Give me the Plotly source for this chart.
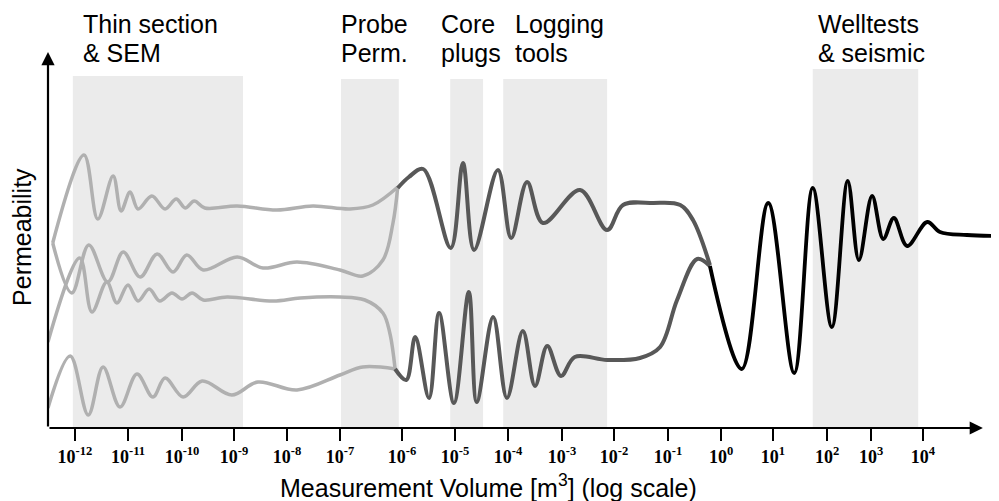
import plotly.graph_objects as go

# ---- axis ticks (log10 of measurement volume, positions as drawn) ----
tick_exp = [-12, -11, -10, -9, -8, -7, -6, -5, -4, -3, -2, -1, 0, 1, 2, 3, 4]
tick_pos = [-12.0, -11.0, -9.98, -9.0, -8.0, -7.0, -5.83, -4.83, -3.83, -2.81,
            -1.83, -0.81, 0.19, 1.17, 2.19, 3.02, 4.0]

# ---- measurement-scale bands ----
band_line1 = ["Thin section", "Probe", "Core", "Logging", "Welltests"]
band_line2 = ["& SEM", "Perm.", "plugs", "tools", "& seismic"]
band_lo = [-12.04, -6.98, -4.92, -3.92, 1.92]
band_hi = [-8.83, -5.89, -4.30, -1.96, 3.91]
band_top = [35.2, 34.9, 34.9, 34.9, 35.9]
label_x = [-11.89, -7.02, -5.13, -3.74, 1.98]

# ---- small-scale curves (light grey) ----
a_x = [-12.42, -11.83, -11.57, -11.28, -11.13, -10.96, -10.81, -10.55, -10.30, -10.09,
       -9.92, -9.75, -9.55, -8.94, -8.19, -7.51, -6.81, -6.38, -5.91]
a_y = [18.5, 27.3, 20.9, 25.2, 21.7, 23.6, 21.9, 23.2, 21.9, 22.9,
       22.0, 22.7, 22.0, 22.2, 21.8, 22.2, 21.9, 22.3, 24.1]

b_x = [-12.42, -12.06, -11.74, -11.38, -11.09, -10.77, -10.45, -10.15, -9.89, -9.58,
       -8.94, -8.45, -7.81, -7.00, -6.57, -6.19, -6.00, -5.91]
b_y = [18.5, 13.5, 18.3, 14.6, 17.6, 15.1, 17.4, 15.6, 17.3, 15.8,
       17.1, 16.0, 16.6, 15.8, 15.2, 16.8, 20.5, 24.1]

c_x = [-12.51, -11.91, -11.68, -11.40, -11.21, -11.00, -10.81, -10.60, -10.40, -10.17,
       -9.98, -9.79, -9.58, -9.13, -8.26, -7.75, -7.00, -6.53, -6.19, -6.06, -5.96]
c_y = [8.6, 17.0, 11.6, 14.6, 12.5, 14.3, 12.7, 13.9, 12.7, 13.5,
       12.9, 13.5, 12.8, 13.1, 12.7, 13.0, 13.1, 12.8, 11.5, 9.5, 5.9]

d_x = [-12.51, -12.09, -11.75, -11.47, -11.15, -10.83, -10.53, -10.30, -9.96, -9.60,
       -9.04, -8.55, -7.81, -7.00, -6.57, -5.96]
d_y = [2.0, 7.2, 1.3, 6.1, 2.1, 5.4, 3.1, 5.0, 3.1, 4.7,
       3.3, 4.6, 3.8, 5.3, 6.1, 5.9]

# ---- intermediate-scale curves (dark grey) ----
e_x = [-5.91, -5.70, -5.43, -4.91, -4.68, -4.47, -4.02, -3.77, -3.47, -3.17,
       -2.47, -1.96, -1.66, -1.09, -0.58, -0.34, -0.02]
e_y = [24.0, 25.1, 25.9, 18.0, 26.5, 17.8, 25.8, 19.0, 24.6, 20.5,
       23.8, 19.8, 22.3, 22.5, 22.3, 20.8, 16.3]

f_x = [-5.96, -5.75, -5.58, -5.32, -5.13, -4.85, -4.57, -4.42, -4.11, -3.85,
       -3.55, -3.32, -3.09, -2.83, -2.57, -1.96, -1.34, -0.96, -0.64, -0.26, -0.02]
f_y = [5.9, 4.8, 9.1, 3.0, 11.5, 2.5, 13.6, 2.6, 11.1, 3.0,
       9.7, 4.2, 8.2, 5.2, 7.1, 6.8, 7.0, 8.1, 12.8, 16.9, 16.2]

# ---- large-scale curve (black) ----
g_x = [-0.02, 0.58, 1.08, 1.57, 1.92, 2.28, 2.58, 2.79, 3.04, 3.25,
       3.45, 3.70, 4.08, 4.32, 4.83, 5.43]
g_y = [16.2, 5.9, 22.5, 5.5, 24.0, 10.1, 24.7, 16.8, 23.2, 18.9,
       21.0, 18.2, 20.6, 19.6, 19.3, 19.2]

LIGHT = "#b0b0b0"
DARK = "#585858"
BLACK = "#000000"

fig = go.Figure()

for xs, ys, col, w in [(a_x, a_y, LIGHT, 3.5), (b_x, b_y, LIGHT, 3.5), (c_x, c_y, LIGHT, 3.5),
                       (d_x, d_y, LIGHT, 3.5), (e_x, e_y, DARK, 4), (f_x, f_y, DARK, 4),
                       (g_x, g_y, BLACK, 3.8)]:
    fig.add_trace(go.Scatter(x=xs, y=ys, mode="lines",
                             line=dict(color=col, width=w, shape="spline", smoothing=1.0),
                             hoverinfo="skip", showlegend=False))

# bands
for lo, hi, top in zip(band_lo, band_hi, band_top):
    fig.add_shape(type="rect", xref="x", yref="y", x0=lo, x1=hi, y0=0, y1=top,
                  fillcolor="#ebebeb", line=dict(width=0), layer="below")

label_font = dict(family="Liberation Sans, Arial", size=25, color="black")
for l1, l2, lx in zip(band_line1, band_line2, label_x):
    fig.add_annotation(x=lx, y=40.4, xref="x", yref="y", text=l1, showarrow=False,
                       xanchor="left", yanchor="middle", font=label_font)
    fig.add_annotation(x=lx, y=37.5, xref="x", yref="y", text=l2, showarrow=False,
                       xanchor="left", yanchor="middle", font=label_font)

x_left = -12.509
x_right = 5.434
# axis arrows
fig.add_annotation(x=x_left, y=37.6, ax=x_left, ay=0, xref="x", yref="y", axref="x", ayref="y",
                   showarrow=True, arrowhead=2, arrowsize=1.2, arrowwidth=2.2, arrowcolor="black", text="")
fig.add_annotation(x=5.13, y=0, ax=x_left, ay=0, xref="x", yref="y", axref="x", ayref="y",
                   showarrow=True, arrowhead=2, arrowsize=1.2, arrowwidth=2.2, arrowcolor="black", text="")

# axis titles
fig.add_annotation(x=0.4627, y=-0.138, xref="paper", yref="paper",
                   text="Measurement Volume [m<sup>3</sup>] (log scale)", showarrow=False,
                   xanchor="center", yanchor="middle", font=label_font)
fig.add_annotation(x=-0.0273, y=0.455, xref="paper", yref="paper", text="Permeability",
                   textangle=-90, showarrow=False, xanchor="center", yanchor="middle", font=label_font)

fig.update_layout(
    width=991, height=493,
    margin=dict(l=40, r=0, t=0, b=73),
    paper_bgcolor="white", plot_bgcolor="white",
    xaxis=dict(range=[x_left, x_right], showgrid=False, zeroline=False, showline=False,
               tickmode="array", tickvals=tick_pos,
               ticktext=[f"<b>10<sup>{e}</sup></b>" for e in tick_exp],
               ticks="outside", ticklen=12, tickwidth=2, tickcolor="black",
               tickfont=dict(family="Liberation Serif, Times New Roman", size=18, color="black")),
    yaxis=dict(range=[0, 42.0], showgrid=False, zeroline=False, showline=False,
               showticklabels=False, ticks=""),
)

fig.write_html("out.html")
